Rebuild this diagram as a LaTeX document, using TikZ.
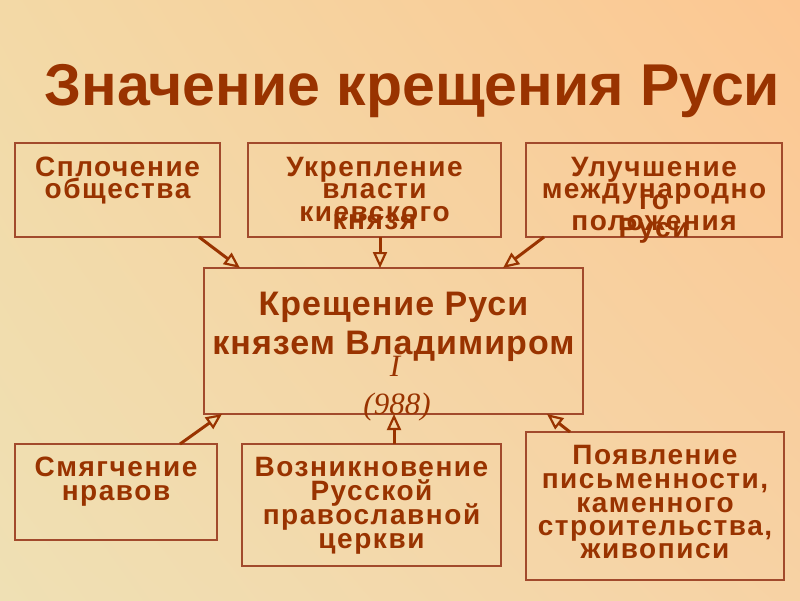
\documentclass[tikz,border=0pt]{standalone}
\usepackage{fontspec}
\setmainfont{Liberation Sans}
\newfontfamily\boxfont[LetterSpace=5.5]{Liberation Sans}
\newfontfamily\cenfont[LetterSpace=3]{Liberation Sans}
\newfontfamily\serfont{Liberation Serif}
\usetikzlibrary{arrows.meta,shadings}
\definecolor{txt}{HTML}{993300}
\definecolor{lnc}{HTML}{A24A2C}
\definecolor{bgul}{HTML}{F3D9A6}
\definecolor{bgur}{HTML}{FCC792}
\definecolor{bgll}{HTML}{EFE0B4}
\definecolor{bglr}{HTML}{F7D2A4}
\tikzset{
  box/.style={draw=lnc, line width=1.4pt, rectangle, inner sep=0pt},
  ln/.style={anchor=base, inner sep=0pt, text=txt, font=\boxfont\bfseries\fontsize{28}{28}\selectfont},
  cln/.style={anchor=base, inner sep=0pt, text=txt, font=\cenfont\bfseries\fontsize{34}{34}\selectfont},
  ital/.style={anchor=base, inner sep=0pt, text=txt, font=\serfont\itshape\fontsize{31}{31}\selectfont},
  arr/.style={draw=txt, line width=3pt, -{Triangle[open, length=16pt, width=14pt, line width=2.2pt]}},
}
\begin{document}
\begin{tikzpicture}[x=1pt,y=-1pt]
\shade[upper left=bgul, upper right=bgur, lower left=bgll, lower right=bglr]
  (0,0) rectangle (800,600);
\useasboundingbox (0,0) rectangle (800,600);

% title
\node[anchor=base, inner sep=0pt, text=txt, font=\bfseries\fontsize{59}{59}\selectfont] (title) at (412.5,105) {Значение крещения Руси};

% boxes
\node[box, minimum width=205pt, minimum height=94pt] (b1) at (117.5,190) {};
\node[box, minimum width=253pt, minimum height=94pt] (b2) at (374.5,190) {};
\node[box, minimum width=256pt, minimum height=94pt] (b3) at (654,190) {};
\node[box, minimum width=379pt, minimum height=146pt] (c) at (393.5,341) {};
\node[box, minimum width=202pt, minimum height=96pt] (d1) at (116,492) {};
\node[box, minimum width=259pt, minimum height=122pt] (d2) at (371.5,505) {};
\node[box, minimum width=258pt, minimum height=148pt] (d3) at (655,506) {};

% texts top
\node[ln] (b1a) at (117.5,176) {Сплочение};
\node[ln] (b1b) at (117.5,198) {общества};
\node[ln] (b2a) at (374.5,176) {Укрепление};
\node[ln] (b2b) at (374.5,198) {власти};
\node[ln] (b2c) at (374.5,221) {киевского};
\node[ln] (b2d) at (374.5,229) {князя};
\node[ln] (b3a) at (654,176) {Улучшение};
\node[ln] (b3b) at (654,198) {международно};
\node[ln] (b3c) at (654,209) {го};
\node[ln] (b3d) at (654,230) {положения};
\node[ln] (b3e) at (654,237) {Руси};

% center
\node[cln] (ca) at (393.5,315) {Крещение Руси};
\node[cln] (cb) at (393.5,354) {князем Владимиром};
\node[ital] (cc) at (395,376) {I};
\node[ital] (cd) at (397,414) {(988)};

% bottom texts
\node[ln] (d1a) at (116,476) {Смягчение};
\node[ln] (d1b) at (116,500) {нравов};
\node[ln] (d2a) at (371.5,476) {Возникновение};
\node[ln] (d2b) at (371.5,500) {Русской};
\node[ln] (d2c) at (371.5,524) {православной};
\node[ln] (d2d) at (371.5,548) {церкви};
\node[ln] (d3a) at (655,464) {Появление};
\node[ln] (d3b) at (655,488) {письменности,};
\node[ln] (d3c) at (655,512) {каменного};
\node[ln] (d3d) at (655,535) {строительства,};
\node[ln] (d3e) at (655,558) {живописи};

% arrow coordinates
\coordinate (s1) at (199,237); \coordinate (e1) at (240,268);
\coordinate (s2) at (380,237); \coordinate (e2) at (380,268);
\coordinate (s3) at (544,237); \coordinate (e3) at (503,268);
\coordinate (s4) at (180,444); \coordinate (e4) at (222,414);
\coordinate (s5) at (394,444); \coordinate (e5) at (394,414);
\coordinate (s6) at (570,432); \coordinate (e6) at (547,414);
\draw[arr] (s1) -- (e1);
\draw[arr] (s2) -- (e2);
\draw[arr] (s3) -- (e3);
\draw[arr] (s4) -- (e4);
\draw[arr] (s5) -- (e5);
\draw[arr] (s6) -- (e6);
\end{tikzpicture}
\end{document}
